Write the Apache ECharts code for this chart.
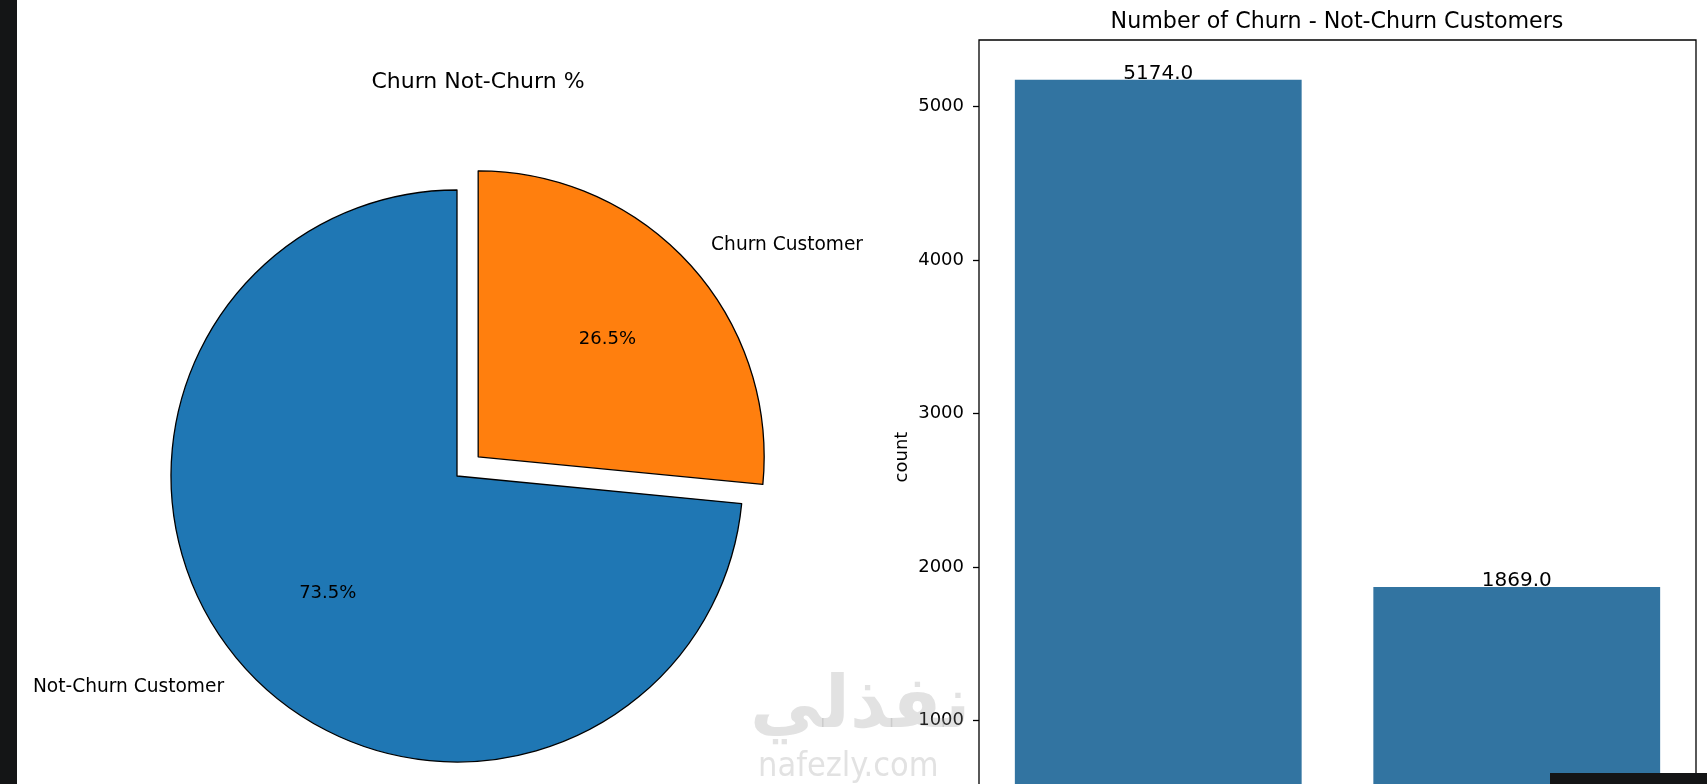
<!DOCTYPE html>
<html>
<head>
<meta charset="utf-8">
<script src="https://cdn.jsdelivr.net/npm/echarts@6/dist/echarts.min.js"></script>
<style>
html,body{margin:0;padding:0;background:#fff;}
#chart{width:1707px;height:784px;}
</style>
</head>
<body>
<div id="chart"></div>
<script>
// ---- data ----
const pieNames = ['Churn Customer', 'Not-Churn Customer'];
const pieValues = [1869, 5174];
const pieColors = ['#ff7f0e', '#1f77b4'];
const barCategories = ['No', 'Yes'];
const barValues = [5174, 1869];
const yTicks = [0, 1000, 2000, 3000, 4000, 5000];

const chart = echarts.init(document.getElementById('chart'), null, {renderer: 'canvas'});

const R = 286;
const CENTER = [457, 476];
const EXPLODE = 0.1 * R;

const pieData = pieNames.map((n, i) => ({
  name: n, value: pieValues[i], selected: i === 0,
  itemStyle: {color: pieColors[i]}
}));
const pctData = pieNames.map((n, i) => ({
  name: n, value: pieValues[i], selected: i === 0
}));

const option = {
  animation: false,
  textStyle: {fontFamily: 'DejaVu Sans', color: '#000'},
  title: [
    {text: 'Churn Not-Churn %', left: 478, top: 71, textAlign: 'center', padding: 0,
     textStyle: {fontSize: 22, fontWeight: 'normal', color: '#000', fontFamily: 'DejaVu Sans'}},
    {text: 'Number of Churn - Not-Churn Customers', left: 1337, top: 11, textAlign: 'center', padding: 0,
     textStyle: {fontSize: 22.2, fontWeight: 'normal', color: '#000', fontFamily: 'DejaVu Sans'}}
  ],
  grid: {left: 979, top: 40, width: 717, height: 834, outerBoundsMode: 'none', containLabel: false,
         show: true, borderColor: '#000', borderWidth: 1.3, backgroundColor: 'transparent'},
  xAxis: {
    type: 'category', data: barCategories,
    axisLine: {show: false}, axisTick: {show: false},
    axisLabel: {fontSize: 18, color: '#000'}
  },
  yAxis: {
    type: 'value', min: 0, max: barValues[0] * 1.05,
    name: 'count', nameLocation: 'middle', nameGap: 68, nameRotate: 90,
    nameTextStyle: {fontSize: 18, color: '#000'},
    splitLine: {show: false},
    axisLine: {show: false},
    axisTick: {show: true, length: 6, lineStyle: {color: '#000', width: 1.3}, customValues: yTicks},
    axisLabel: {fontSize: 18, color: '#000', margin: 15, customValues: yTicks, formatter: v => String(v)}
  },
  series: [
    {
      type: 'pie', center: CENTER, radius: R, startAngle: 90, clockwise: true,
      selectedMode: 'multiple', selectedOffset: EXPLODE, avoidLabelOverlap: false,
      silent: true, percentPrecision: 1,
      itemStyle: {borderColor: '#000', borderWidth: 1.3},
      label: {show: true, position: 'outside', formatter: '{b}', fontSize: 18.6, color: '#000', distanceToLabelLine: 0},
      labelLine: {show: false, length: EXPLODE, length2: 0},
      emphasis: {disabled: true},
      data: pieData
    },
    {
      type: 'pie', center: CENTER, radius: 1.2 * R, startAngle: 90, clockwise: true,
      selectedMode: 'multiple', selectedOffset: EXPLODE, avoidLabelOverlap: false,
      silent: true, percentPrecision: 1,
      itemStyle: {color: 'rgba(0,0,0,0)', borderWidth: 0},
      label: {show: true, position: 'inside', formatter: '{d}%', fontSize: 18, color: '#000'},
      labelLine: {show: false},
      emphasis: {disabled: true},
      data: pctData
    },
    {
      type: 'bar', data: barValues, barCategoryGap: '20%',
      itemStyle: {color: '#3274a1'},
      label: {show: true, position: 'top', distance: -4, fontSize: 20, color: '#000',
        formatter: p => p.value.toFixed(1)},
      silent: true
    }
  ],
  graphic: [
    {type: 'rect', left: 0, top: 0, shape: {width: 17, height: 784}, style: {fill: '#141516'}, z: 100},
    {type: 'rect', left: 1550, top: 773, shape: {width: 157, height: 11}, style: {fill: '#141516'}, z: 100},
    {type: 'text', left: 750, top: 672, z: 90,
     style: {text: 'نفذلي', fontSize: 72, fontWeight: 'bold', fontFamily: 'DejaVu Sans', fill: 'rgba(140,140,140,0.25)'}},
    {type: 'text', left: 758, top: 750, z: 90,
     style: {text: 'nafezly.com', fontSize: 34, fontFamily: 'DejaVu Sans Condensed, DejaVu Sans', fill: 'rgba(140,140,140,0.25)'}}
  ]
};
chart.setOption(option);
</script>
</body>
</html>
